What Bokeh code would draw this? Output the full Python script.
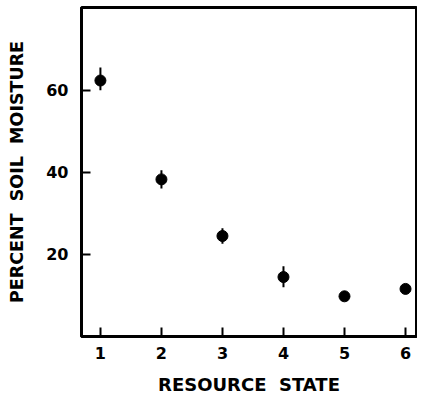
from bokeh.plotting import figure
from bokeh.models import FixedTicker, Range1d
from bokeh.embed import file_html
from bokeh.resources import INLINE

resource_state = [1, 2, 3, 4, 5, 6]
moisture_mean = [62.4, 38.3, 24.5, 14.5, 9.8, 11.6]
moisture_low = [60.0, 36.1, 22.6, 12.0, 9.8, 11.6]
moisture_high = [65.6, 40.5, 26.4, 17.1, 9.8, 11.6]
x_ticks = [1, 2, 3, 4, 5, 6]
y_ticks = [20, 40, 60]

FONT = "DejaVu Sans"

p = figure(width=417, height=398, output_backend="svg", toolbar_location=None,
           x_range=Range1d(0.69, 6.18), y_range=Range1d(0, 80.2),
           min_border_left=81, min_border_right=1, min_border_top=7, min_border_bottom=62)

p.segment(x0=resource_state, y0=moisture_low, x1=resource_state, y1=moisture_high,
          line_color="black", line_width=2)
p.scatter(resource_state, moisture_mean, size=11, marker="circle",
          fill_color="black", line_color="black")

p.xgrid.visible = False
p.ygrid.visible = False
p.outline_line_color = "black"
p.outline_line_width = 3
p.background_fill_color = "white"
p.border_fill_color = "white"

for ax in (p.xaxis[0], p.yaxis[0]):
    ax.axis_line_width = 3
    ax.axis_line_color = "black"
    ax.major_tick_in = 9
    ax.major_tick_out = 0
    ax.major_tick_line_width = 2
    ax.minor_tick_line_color = None
    ax.major_label_text_font = FONT
    ax.major_label_text_font_style = "bold"
    ax.major_label_text_font_size = "16px"
    ax.major_label_text_color = "black"
    ax.axis_label_text_font = FONT
    ax.axis_label_text_font_style = "bold"
    ax.axis_label_text_color = "black"

p.xaxis.axis_label_text_font_size = "18px"
p.yaxis.axis_label_text_font_size = "17.5px"
p.xaxis.ticker = FixedTicker(ticks=x_ticks)
p.yaxis.ticker = FixedTicker(ticks=y_ticks)
p.xaxis.axis_label = "RESOURCE\u00a0\u00a0STATE"
p.yaxis.axis_label = "PERCENT\u00a0\u00a0SOIL\u00a0\u00a0MOISTURE"
p.xaxis.major_label_standoff = 10
p.yaxis.major_label_standoff = 13
p.xaxis.axis_label_standoff = 12
p.yaxis.axis_label_standoff = 16

open("out.html", "w").write(file_html(p, INLINE))
